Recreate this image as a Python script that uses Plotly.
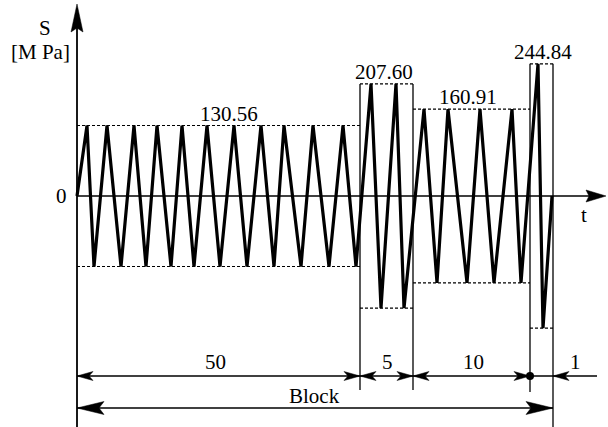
import plotly.graph_objects as go

# ---------------- data ----------------
segment_amplitudes = [130.56, 207.60, 160.91, 244.84]   # MPa
segment_cycles = [50, 5, 10, 1]                          # cycles per block
# schematic turning-point times (t units)
segment_peak_t = [
    [10, 30, 57, 80, 105, 130, 157, 184, 207, 236, 266],
    [294, 319],
    [347, 371, 403, 435],
    [461],
]
segment_trough_t = [
    [17, 44, 69, 94, 117, 143, 170, 197, 224, 252, 279],
    [304, 327],
    [360, 390, 417, 444],
    [466],
]
segment_edges_t = [0, 283, 336, 453, 476]
end_t = 475

# ---------------- geometry helpers (layout only) ----------------
K = 0.54          # px per MPa
X0, Y0 = 77, 196  # pixel position of origin
W_PX, H_PX = 608, 427


def X(px):
    return px - X0


def Y(py):
    return (Y0 - py) / K


def PY(v):
    return Y0 - v * K


FONT = dict(family="Liberation Serif, Times New Roman, serif", color="black", size=21)

fig = go.Figure()

# waveform
t_pts, s_pts = [0], [0]
for amp, peaks, troughs in zip(segment_amplitudes, segment_peak_t, segment_trough_t):
    for p, q in zip(peaks, troughs):
        t_pts += [p, q]
        s_pts += [amp, -amp]
t_pts.append(end_t)
s_pts.append(0)

fig.add_trace(go.Scatter(x=t_pts, y=s_pts, mode="lines",
                         line=dict(color="black", width=3.2),
                         hoverinfo="skip", showlegend=False))

shapes = []


def line(x0, y0, x1, y1, width=1.3, dash="solid"):
    shapes.append(dict(type="line", xref="x", yref="y", x0=x0, y0=y0, x1=x1, y1=y1,
                       line=dict(color="black", width=width, dash=dash), layer="below"))


def arrow(tipx, tipy, dx, dy, L, Wd, notch):
    bx, by = tipx - L * dx, tipy - L * dy
    perp = (-dy, dx)
    c1 = (bx + Wd * perp[0], by + Wd * perp[1])
    c2 = (bx - Wd * perp[0], by - Wd * perp[1])
    nx, ny = tipx - (L - notch) * dx, tipy - (L - notch) * dy
    pts = [(tipx, tipy), c1, (nx, ny), c2]
    path = "M " + " L ".join(f"{X(a):.3f},{Y(b):.3f}" for a, b in pts) + " Z"
    shapes.append(dict(type="path", xref="x", yref="y", path=path,
                       fillcolor="black", line=dict(color="black", width=0.5)))


# axes
line(X(X0), Y(H_PX), X(X0), Y(26), width=1.8)
arrow(X0, 4, 0, -1, 28, 6, 4)
line(X(X0), 0, X(590), 0, width=1.5)
arrow(606, Y0, 1, 0, 20, 6, 3)

# dashed amplitude levels
for i, amp in enumerate(segment_amplitudes):
    a, b = segment_edges_t[i], segment_edges_t[i + 1]
    line(a, amp, b, amp, width=1.2, dash="3px,2px")
    line(a, -amp, b, -amp, width=1.2, dash="3px,2px")

# vertical boundary lines
ext_bottom_py = [None, 390, 390, 392, H_PX]
for i in range(1, len(segment_edges_t)):
    top = max(segment_amplitudes[i - 1], segment_amplitudes[i]) if i < len(segment_amplitudes) else segment_amplitudes[-1]
    line(segment_edges_t[i], top, segment_edges_t[i], Y(ext_bottom_py[i]), width=1.3)

# dimension line (cycles)
DIM_PY = 376
BLK_PY = 408
line(0, Y(DIM_PY), X(597), Y(DIM_PY), width=1.3)
e = segment_edges_t
arrow(X0 + e[0], DIM_PY, -1, 0, 16, 4.5, 4)
for i in (1, 2, 3):
    arrow(X0 + e[i], DIM_PY, 1, 0, 16, 4.5, 4)
for i in (1, 2):
    arrow(X0 + e[i], DIM_PY, -1, 0, 16, 4.5, 4)
arrow(X0 + e[4], DIM_PY, -1, 0, 16, 4.5, 4)
shapes.append(dict(type="circle", xref="x", yref="y",
                   x0=e[3] - 4, x1=e[3] + 4, y0=Y(DIM_PY + 4), y1=Y(DIM_PY - 4),
                   fillcolor="black", line=dict(color="black", width=0)))

# block line
line(0, Y(BLK_PY), e[4], Y(BLK_PY), width=1.3)
arrow(X0 + e[0], BLK_PY, -1, 0, 27, 6.5, 5)
arrow(X0 + e[4], BLK_PY, 1, 0, 27, 6.5, 5)

annotations = []


def text(x, y, s, size=21):
    f = dict(FONT)
    f["size"] = size
    annotations.append(dict(x=x, y=y, xref="x", yref="y", text=s, showarrow=False,
                            font=f, xanchor="center", yanchor="middle"))


# amplitude labels
amp_label_t = [152, 307, 391, 466]
for t, amp in zip(amp_label_t, segment_amplitudes):
    text(t, Y(PY(amp) - 12), f"{amp:.2f}")

# cycle labels
cycle_label_t = [X(215), X(387), X(473), X(575)]
for t, c in zip(cycle_label_t, segment_cycles):
    text(t, Y(362), str(c))
text(X(314), Y(396), "Block")

# axis labels
text(X(45), Y(28), "S")
text(X(40), Y(52), "[M Pa]")
text(X(61), Y(196), "0")
text(X(584), Y(215), "t")

fig.update_layout(
    width=W_PX, height=H_PX,
    margin=dict(l=0, r=0, t=0, b=0),
    paper_bgcolor="white", plot_bgcolor="white",
    xaxis=dict(range=[X(0), X(W_PX)], visible=False, fixedrange=True),
    yaxis=dict(range=[Y(H_PX), Y(0)], visible=False, fixedrange=True),
    shapes=shapes, annotations=annotations, showlegend=False,
)

fig.write_html("out.html", post_script="document.body.style.margin='0';document.body.style.overflow='hidden';",
               config={"displayModeBar": False})
